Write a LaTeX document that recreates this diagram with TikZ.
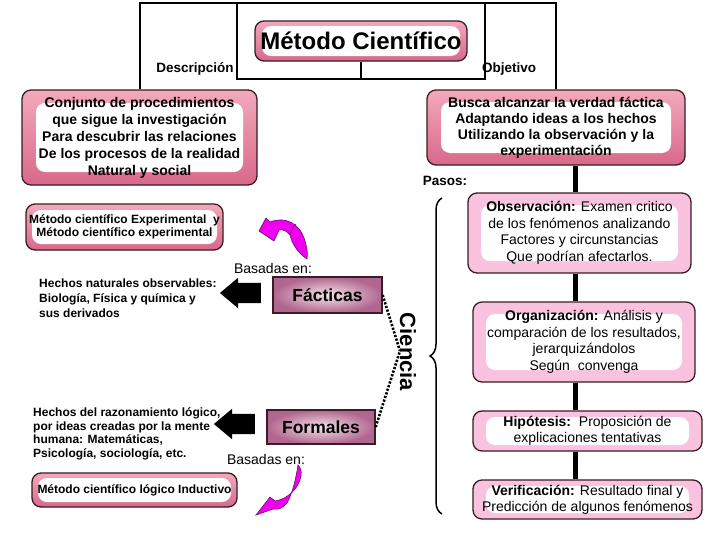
\documentclass[tikz,border=0pt]{standalone}
\usepackage{fontspec}
\setmainfont{Liberation Sans}
\usetikzlibrary{shapes.arrows,decorations.pathreplacing,calc}
\definecolor{dark}{HTML}{3A1C24}
\definecolor{pinkT}{HTML}{F3A9BC}
\definecolor{pinkB}{HTML}{D8688A}
\definecolor{steppink}{HTML}{F9C3DF}
\definecolor{mag}{HTML}{F000F0}
\definecolor{magdark}{HTML}{6A0A6A}
\definecolor{boxin}{HTML}{F6E2EC}
\definecolor{boxout}{HTML}{B0668F}
\tikzset{
  inset/.style 2 args={path picture={\fill[white] ([shift={(#1,#2)}]path picture bounding box.south west) rectangle ([shift={(-#1,-#2)}]path picture bounding box.north east);}},
  pinkbox/.style={draw=dark, line width=1.3pt, rounded corners=9pt, top color=pinkT, bottom color=pinkB, align=center, inner sep=0pt, font=\bfseries\fontsize{14}{17}\selectfont},
  stepbox/.style={draw=dark, line width=1.3pt, rounded corners=9pt, fill=steppink, align=center, inner sep=0pt, font=\fontsize{14}{16.5}\selectfont},
  catbox/.style={draw=dark, line width=1.3pt, inner color=boxin, outer color=boxout, inner sep=0pt, font=\bfseries\fontsize{17.5}{20}\selectfont},
  frame/.style={draw=black, line width=2pt},
  lbl/.style={inner sep=0pt, font=\bfseries\fontsize{13.5}{16}\selectfont},
  txt/.style={inner sep=0pt, align=left, anchor=west, font=\bfseries\fontsize{12}{15}\selectfont},
  bas/.style={inner sep=0pt, font=\fontsize{14}{16}\selectfont},
  barrow/.style={single arrow, fill=black, shape border rotate=180, minimum height=41pt, single arrow head extend=5pt, single arrow tip angle=80, inner xsep=0pt, inner ysep=10pt},
  stem/.style={draw=black, line width=5pt},
  dotline/.style={draw=black, line width=2.6pt, dash pattern=on 2.2pt off 1.6pt},
  curvy/.style={fill=mag, draw=magdark, line width=0.6pt},
}
\begin{document}
\begin{tikzpicture}[x=1pt,y=-1pt]
\useasboundingbox (0,0) rectangle (728,546);
\fill[white] (0,0) rectangle (728,546);

\coordinate (topy) at (0,3);
\coordinate (inb) at (0,79);
\coordinate (vx) at (575,0);
\coordinate (cj) at (400,351);

\node[pinkbox, inset={7pt}{5pt}, minimum width=212pt, minimum height=40pt, font=\bfseries\fontsize{24}{28}\selectfont] (title) at (361,41) {Método Científico};

\node[pinkbox, inset={14pt}{13pt}, minimum width=235pt, minimum height=95pt] (desc) at (139.5,137.5) {Conjunto de procedimientos\\que sigue la investigación\\Para descubrir las relaciones\\De los procesos de la realidad\\Natural y social};
\node[pinkbox, inset={14pt}{12pt}, minimum width=258pt, minimum height=75pt, font=\bfseries\fontsize{14}{16}\selectfont] (obj) at (556,127.5) {Busca alcanzar la verdad fáctica\\Adaptando ideas a los hechos\\Utilizando la observación y la\\experimentación};

\draw[frame] (desc.north) -- (desc.north |- topy) -- (obj.north |- topy) -- (obj.north);
\draw[frame] (237,3) rectangle (485,79);
\draw[frame] (title.south) -- (title.south |- inb);

\node[lbl] (ldesc) at (195,69) {Descripción};
\node[lbl] (lobj) at (509,69) {Objetivo};
\node[lbl] (pasos) at (445,181) {Pasos:};

\node[stepbox, inset={13pt}{12pt}, minimum width=223pt, minimum height=80pt] (obs) at (579.5,233) {\textbf{Observación:} Examen critico\\de los fenómenos analizando\\Factores y circunstancias\\Que podrían afectarlos.};
\node[stepbox, inset={13pt}{12pt}, minimum width=222pt, minimum height=80pt] (org) at (584,342) {\textbf{Organización:} Análisis y\\comparación de los resultados,\\jerarquizándolos\\Según\ \ convenga};
\node[stepbox, inset={13pt}{6pt}, minimum width=229pt, minimum height=40pt, font=\fontsize{14}{16}\selectfont] (hip) at (587.5,431) {\textbf{Hipótesis:}\ \ Proposición de\\explicaciones tentativas};
\node[stepbox, inset={13pt}{6pt}, minimum width=229pt, minimum height=39pt, font=\fontsize{14}{16}\selectfont] (ver) at (587.5,499.5) {\textbf{Verificación:} Resultado final y\\Predicción de algunos fenómenos};

\draw[stem] (obj.south -| vx) -- (obs.north -| vx);
\draw[stem] (obs.south -| vx) -- (org.north -| vx);
\draw[stem] (org.south -| vx) -- (hip.north -| vx);
\draw[stem] (hip.south -| vx) -- (ver.north -| vx);

\draw[line width=1.5pt, decorate, decoration={brace, amplitude=12pt}] (442,514) -- (442,198);
\node[rotate=-90, inner sep=0pt, font=\bfseries\fontsize{22}{24}\selectfont] (cien) at (408,352) {Ciencia};

\node[catbox, minimum width=109pt, minimum height=36pt] (fact) at (327.5,295) {Fácticas};
\node[catbox, minimum width=108pt, minimum height=34pt] (form) at (321,427) {Formales};
\draw[dotline] (fact.east) -- (cj);
\draw[dotline] (form.east) -- (cj);

\node[barrow] (ar1) at (246.5,293) {};
\node[barrow] (ar2) at (240.5,424) {};

\node[txt] (hn) at (39,298) {Hechos naturales observables:\\Biología, Física y química y\\sus derivados};
\node[txt, font=\bfseries\fontsize{12}{13.5}\selectfont] (hr) at (33,434) {Hechos del razonamiento lógico,\\por ideas creadas por la mente\\humana: Matemáticas,\\Psicología, sociología, etc.};

\node[bas] (b1) at (273,268) {Basadas en:};
\node[bas] (b2) at (266,459) {Basadas en:};

\node[pinkbox, inset={6pt}{6pt}, minimum width=197pt, minimum height=46pt, font=\bfseries\fontsize{12}{13}\selectfont] (mexp) at (124.5,227) {Método científico Experimental\ \ y\\Método científico experimental};
\node[pinkbox, inset={6pt}{5pt}, minimum width=205pt, minimum height=34pt, font=\bfseries\fontsize{12}{13}\selectfont] (mlog) at (134.5,490) {Método científico lógico Inductivo};

\path[curvy] (259,231) -- (266,218) -- (270,222)
  .. controls (285,216) and (300,223) .. (305,241)
  .. controls (307,248) and (308,253) .. (307,259)
  .. controls (298,253) and (292,244) .. (290,235)
  .. controls (287,231) and (283,229) .. (279,230)
  -- (274,241) -- cycle;
\draw[magdark, line width=0.5pt] (290,235) .. controls (292,229) and (294,225) .. (296,224);
\path[curvy] (256,515) -- (270,497) -- (275,501)
  .. controls (288,499) and (299,488) .. (301,476)
  .. controls (302,471) and (300,467) .. (298,465)
  .. controls (296,478) and (293,492) .. (287,503)
  .. controls (283,508) and (278,510) .. (273,509)
  -- cycle;
\end{tikzpicture}
\end{document}
